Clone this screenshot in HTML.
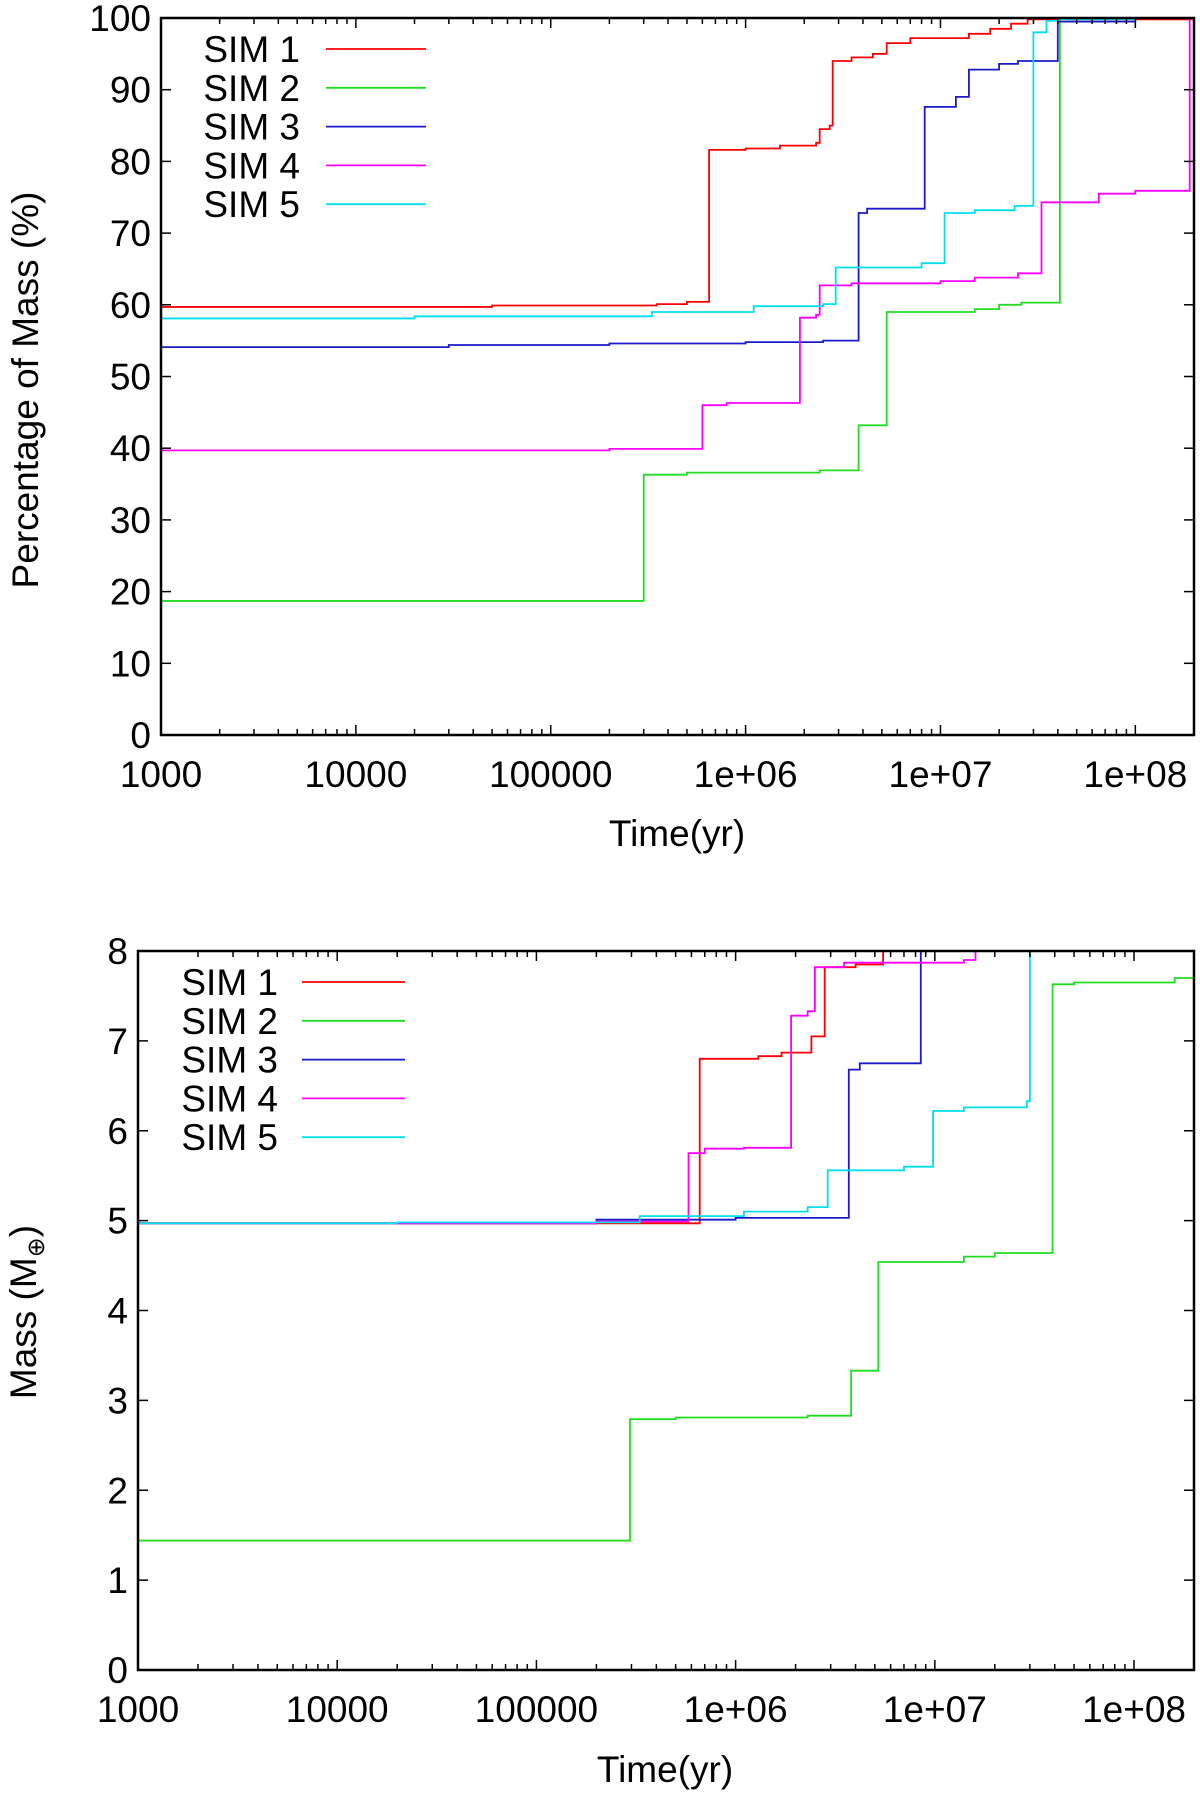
<!DOCTYPE html>
<html><head><meta charset="utf-8"><style>
html,body{margin:0;padding:0;background:#fff;}
svg{display:block;font-family:"Liberation Sans",sans-serif;}
</style></head><body>
<svg id="fig" width="1200" height="1796" viewBox="0 0 1200 1796" xmlns="http://www.w3.org/2000/svg"></svg>
<script>
const seriesNames=["SIM 1","SIM 2","SIM 3","SIM 4","SIM 5"];
const seriesColors=["#ff0000","#22dd22","#1a1acc","#ff00ff","#00e0ee"];
const xTickLabels=["1000","10000","100000","1e+06","1e+07","1e+08"];
const xTickValues=[1e3,1e4,1e5,1e6,1e7,1e8];
const topYTicks=[0,10,20,30,40,50,60,70,80,90,100];
const botYTicks=[0,1,2,3,4,5,6,7,8];
const topSim1=[[1e3,59.7],[5e4,59.9],[3.5e5,60.1],[5e5,60.4],[6.5e5,81.6],[1e6,81.8],[1.5e6,82.2],[2.3e6,82.6],[2.4e6,84.5],[2.7e6,85],[2.8e6,94],[3.5e6,94.5],[4.5e6,95],[5.3e6,96.5],[7e6,97.2],[1.4e7,97.8],[1.8e7,98.5],[2.3e7,99.2],[2.8e7,99.8],[2e8,100]];
const topSim2=[[1e3,18.7],[3e5,36.3],[5e5,36.6],[2.4e6,36.9],[3.8e6,43.2],[5.3e6,59],[1.5e7,59.4],[2e7,60],[2.6e7,60.3],[4.1e7,100],[2e8,100]];
const topSim3=[[1e3,54.1],[3e4,54.4],[2e5,54.6],[1e6,54.8],[2.5e6,55],[3.8e6,72.8],[4.2e6,73.4],[8.3e6,87.6],[1.2e7,89],[1.4e7,92.8],[2e7,93.6],[2.5e7,94],[4e7,99.5],[1e8,100],[2e8,100]];
const topSim4=[[1e3,39.7],[2e5,39.9],[6e5,46],[8e5,46.3],[1.9e6,58.2],[2.3e6,58.6],[2.4e6,62.7],[3.5e6,63],[1e7,63.3],[1.5e7,63.8],[2.5e7,64.4],[3.3e7,74.3],[6.5e7,75.5],[1e8,75.9],[1.9e8,100],[2e8,100]];
const topSim5=[[1e3,58.1],[2e4,58.4],[3.3e5,59],[1.1e6,59.8],[2.5e6,60.1],[2.9e6,65.2],[8e6,65.8],[1.05e7,72.8],[1.5e7,73.2],[2.4e7,73.8],[3e7,98],[3.5e7,99.6],[4e7,99.8],[1e8,100],[2e8,100]];
const botSim1=[[1e3,4.97],[6.6e5,6.8],[1.3e6,6.83],[1.7e6,6.87],[2.4e6,7.05],[2.8e6,7.82],[4e6,7.85],[5.5e6,8.2]];
const botSim2=[[1e3,1.44],[2.95e5,2.79],[5e5,2.81],[2.3e6,2.83],[3.8e6,3.33],[5.2e6,4.54],[1.4e7,4.6],[2e7,4.64],[3.9e7,7.63],[5e7,7.65],[1.6e8,7.7],[2e8,7.72]];
const botSim3=[[1e3,4.97],[2e5,5.01],[1e6,5.03],[3.7e6,6.68],[4.2e6,6.75],[8.5e6,8.2]];
const botSim4=[[1e3,4.97],[2e5,4.99],[5.8e5,5.75],[7e5,5.8],[1.1e6,5.81],[1.9e6,7.28],[2.3e6,7.33],[2.5e6,7.82],[3.5e6,7.87],[1.4e7,7.9],[1.6e7,8.2]];
const botSim5=[[1e3,4.97],[2e4,4.98],[3.3e5,5.05],[1.1e6,5.1],[2.3e6,5.15],[2.9e6,5.56],[7e6,5.6],[9.8e6,6.22],[1.4e7,6.26],[2.9e7,6.33],[3e7,8.5]];

const NS="http://www.w3.org/2000/svg";
const svg=document.getElementById('fig');
function mk(tag,attrs,parent){const e=document.createElementNS(NS,tag);for(const k in attrs)e.setAttribute(k,attrs[k]);(parent||svg).appendChild(e);return e;}

function drawPanel(p){
  const g=mk('g',{});
  
  
  const xmin=Math.log10(1e3),xmax=Math.log10(2e8);
  const X=t=>p.L+(Math.log10(t)-xmin)/(xmax-xmin)*(p.R-p.L);
  const Y=v=>p.B-(v-p.ymin)/(p.ymax-p.ymin)*(p.B-p.T);
  const cid='clip-'+p.name;
  const cp=mk('clipPath',{id:cid},g);mk('rect',{x:p.L,y:p.T,width:p.R-p.L,height:p.B-p.T},cp);
  p.data.forEach((d,i)=>{
    let s='M'+X(d[0][0])+' '+Y(d[0][1]);
    for(let k=1;k<d.length;k++){s+=' H'+X(d[k][0]).toFixed(1)+' V'+Y(d[k][1]).toFixed(1);}
    const path=mk('path',{d:s,fill:'none',stroke:seriesColors[i],'stroke-width':1.8,'clip-path':'url(#'+cid+')'},g);
    
    
  });
  for(let e=3;e<=8;e++){for(let m=1;m<10;m++){const t=m*Math.pow(10,e);if(t>2e8)break;const x=X(t);const len=m===1?10:6;
    mk('line',{x1:x,x2:x,y1:p.B,y2:p.B-len,stroke:'#000','stroke-width':1.5},g);
    mk('line',{x1:x,x2:x,y1:p.T,y2:p.T+len,stroke:'#000','stroke-width':1.5},g);}}
  xTickValues.forEach((t,i)=>{const tx=mk('text',{x:X(t),y:p.B+52,'text-anchor':'middle','font-size':37},g);tx.textContent=xTickLabels[i];
    });
  p.yt.forEach(v=>{const y=Y(v);
    mk('line',{x1:p.L,x2:p.L+10,y1:y,y2:y,stroke:'#000','stroke-width':1.5},g);
    mk('line',{x1:p.R,x2:p.R-10,y1:y,y2:y,stroke:'#000','stroke-width':1.5},g);
    const tx=mk('text',{x:p.L-10,y:y+13,'text-anchor':'end','font-size':37},g);tx.textContent=v;
    });
  const fr=mk('rect',{x:p.L,y:p.T,width:p.R-p.L,height:p.B-p.T,fill:'none',stroke:'#000','stroke-width':2.5},g);
  
  const xl=mk('text',{x:p.xlx,y:p.xly,'text-anchor':'middle','font-size':37},g);xl.textContent='Time(yr)';
  
  const yl=mk('text',{x:0,y:0,'text-anchor':'middle','font-size':37,transform:'translate('+p.ylx+','+p.yly+') rotate(-90)'},g);
  yl.innerHTML=p.ylabel;
  
  seriesNames.forEach((n,i)=>{const y=p.legY+i*38.8;
    const lt=mk('text',{x:p.legX,y:y+13,'text-anchor':'end','font-size':37},g);lt.textContent=n;
    
    mk('line',{x1:p.legL1,x2:p.legL2,y1:y,y2:y,stroke:seriesColors[i],'stroke-width':1.8},g);});
}
drawPanel({name:'top-panel',L:161,R:1194,T:18,B:735,ymin:0,ymax:100,yt:topYTicks,data:[topSim1,topSim2,topSim3,topSim4,topSim5],
  xlx:677,xly:846,ylx:38,yly:390,ylabel:'Percentage of Mass (%)',legX:300,legY:49,legL1:326,legL2:426});
drawPanel({name:'bottom-panel',L:138,R:1194,T:951,B:1670,ymin:0,ymax:8,yt:botYTicks,data:[botSim1,botSim2,botSim3,botSim4,botSim5],
  xlx:665,xly:1782,ylx:36,yly:1312,ylabel:'Mass (M<tspan font-size="24" dy="8">⊕</tspan><tspan dy="-8">)</tspan>',legX:278,legY:982,legL1:302,legL2:405});
</script>
</body></html>
